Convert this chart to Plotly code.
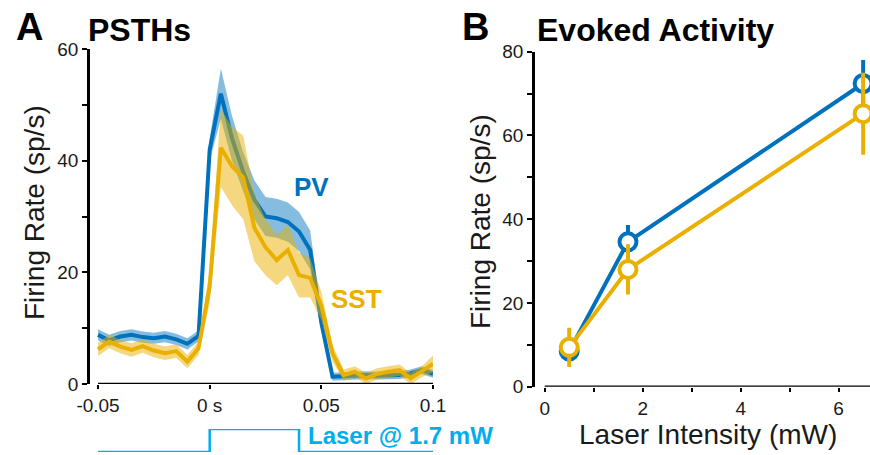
import plotly.graph_objects as go

# ---------------- data ----------------
# Panel A: PSTHs (time in s)
time_s = [-0.05, -0.045, -0.04, -0.035, -0.03, -0.025, -0.02, -0.015, -0.01, -0.005,
          0.0, 0.005, 0.01, 0.015, 0.02, 0.025, 0.03, 0.035, 0.04, 0.045,
          0.05, 0.055, 0.06, 0.065, 0.07, 0.075, 0.08, 0.085, 0.09, 0.095, 0.1]
pv_rate = [8.8, 7.8, 8.5, 8.8, 8.4, 8.2, 8.5, 8.0, 7.2, 8.6,
           42.0, 52.0, 44.0, 38.0, 33.0, 30.0, 29.7, 29.0, 27.3, 24.0,
           11.0, 1.3, 1.4, 1.5, 1.6, 1.5, 1.5, 1.6, 1.9, 2.5, 1.8]
pv_sem = [1.0, 1.0, 1.0, 1.0, 1.0, 1.0, 1.0, 1.0, 1.0, 1.0,
          2.0, 4.5, 4.0, 3.5, 3.5, 3.5, 3.5, 3.5, 3.5, 3.5,
          1.5, 0.7, 0.7, 0.7, 0.7, 0.7, 0.7, 0.7, 0.7, 0.7, 0.7]
sst_rate = [6.2, 7.6, 6.7, 6.1, 6.8, 6.0, 5.5, 5.9, 4.0, 6.4,
            17.5, 42.3, 39.0, 37.0, 28.0, 24.5, 22.2, 24.0, 19.5, 19.0,
            14.0, 5.5, 1.6, 2.2, 1.0, 1.8, 2.2, 2.5, 1.0, 2.2, 3.6]
sst_sem = [1.2, 1.2, 1.2, 1.2, 1.2, 1.2, 1.2, 1.2, 1.2, 1.2,
           3.0, 7.0, 7.0, 7.5, 6.0, 5.0, 4.5, 4.5, 4.0, 3.5,
           2.5, 1.5, 1.0, 1.0, 1.0, 1.0, 1.0, 1.0, 1.0, 1.0, 1.5]
laser_t = [-0.05, 0.0, 0.0, 0.04, 0.04, 0.1]
laser_on = [0, 0, 1, 1, 0, 0]

# Panel B: evoked activity
intensity_mw = [0.5, 1.7, 6.5]
pv_evoked = [8.5, 34.6, 72.4]
pv_evoked_err = [2.5, 4.0, 5.6]
sst_evoked = [9.4, 28.0, 65.2]
sst_evoked_err = [4.7, 6.0, 9.8]

# ---------------- styles ----------------
BLUE = "#0072BD"
YELLOW = "#EAB000"
BLUE_BAND = "rgba(0,114,189,0.48)"
YELLOW_BAND = "rgba(234,176,0,0.5)"
LASER = "#00AEEF"
FONT = "Liberation Sans, Arial, sans-serif"
TXT = "#1a1a1a"
W, H = 870, 455


def px(x):
    return x / W


def py(y):
    return 1 - y / H


fig = go.Figure()


def band(t, m, s, color):
    upper = [a + b for a, b in zip(m, s)]
    lower = [a - b for a, b in zip(m, s)]
    return go.Scatter(x=t + t[::-1], y=upper + lower[::-1], fill="toself",
                      fillcolor=color, line=dict(width=0), mode="lines",
                      hoverinfo="skip", showlegend=False, xaxis="x", yaxis="y")


fig.add_trace(band(time_s, pv_rate, pv_sem, BLUE_BAND))
fig.add_trace(go.Scatter(x=time_s, y=pv_rate, mode="lines", line=dict(color=BLUE, width=4),
                         showlegend=False, xaxis="x", yaxis="y"))
fig.add_trace(band(time_s, sst_rate, sst_sem, YELLOW_BAND))
fig.add_trace(go.Scatter(x=time_s, y=sst_rate, mode="lines", line=dict(color=YELLOW, width=4),
                         showlegend=False, xaxis="x", yaxis="y"))
fig.add_trace(go.Scatter(x=laser_t, y=laser_on, mode="lines", line=dict(color=LASER, width=2.5),
                         showlegend=False, xaxis="x", yaxis="y3"))

# Panel B
for yv, err, col in [(pv_evoked, pv_evoked_err, BLUE), (sst_evoked, sst_evoked_err, YELLOW)]:
    fig.add_trace(go.Scatter(
        x=intensity_mw, y=yv, mode="lines+markers",
        line=dict(color=col, width=4),
        marker=dict(symbol="circle", size=17, color="white", line=dict(color=col, width=4)),
        error_y=dict(type="data", array=err, visible=True, color=col, thickness=4, width=0),
        showlegend=False, xaxis="x2", yaxis="y2", cliponaxis=False))

axis_common = dict(showgrid=False, zeroline=False, ticks="outside", tickwidth=2,
                   tickcolor="black", automargin=False,
                   tickfont=dict(family=FONT, size=19, color=TXT))

fig.update_layout(
    template="none",
    width=W, height=H, margin=dict(l=0, r=0, t=0, b=0, pad=0),
    paper_bgcolor="white", plot_bgcolor="rgba(0,0,0,0)", showlegend=False,
    font=dict(family=FONT, color=TXT),
    xaxis=dict(domain=[px(90), px(433)], range=[-0.0536, 0.1], anchor="y", showline=False,
               ticklen=4,
               tickvals=[-0.05, 0, 0.05, 0.1], ticktext=["-0.05", "0 s", "0.05", "0.1"],
               **axis_common),
    yaxis=dict(domain=[py(384), py(49)], range=[0, 60], anchor="x", showline=True,
               linecolor="black", linewidth=2.5, ticklen=5,
               tickvals=[0, 10, 20, 30, 40, 50, 60], ticktext=["0", "", "20", "", "40", "", "60"],
               **axis_common),
    yaxis3=dict(domain=[py(452), py(429)], range=[0, 1], anchor="x", visible=False,
                automargin=False),
    xaxis2=dict(domain=[px(535), 1.0], range=[-0.198, 6.64], anchor="y2", showline=False,
                ticklen=4,
                tickvals=[0, 1, 2, 3, 4, 5, 6], ticktext=["0", "", "2", "", "4", "", "6"],
                **axis_common),
    yaxis2=dict(domain=[py(386.7), py(51.7)], range=[0, 80], anchor="x2", showline=True,
                linecolor="black", linewidth=2.5, ticklen=5,
                tickvals=[0, 10, 20, 30, 40, 50, 60, 70, 80],
                ticktext=["0", "", "20", "", "40", "", "60", "", "80"],
                **axis_common),
)

# offset x-axis lines
fig.add_shape(type="line", xref="x", yref="y", x0=-0.05, x1=0.1, y0=0, y1=0,
              line=dict(color="black", width=2.5))
fig.add_shape(type="line", xref="x2", yref="y2", x0=0, x1=6.64, y0=0, y1=0,
              line=dict(color="black", width=2.5))

ann = [
    dict(text="<b>A</b>", x=px(14), y=py(27), xanchor="left", yanchor="middle", size=38, color="black"),
    dict(text="<b>PSTHs</b>", x=px(86), y=py(30), xanchor="left", yanchor="middle", size=32, color="black"),
    dict(text="<b>B</b>", x=px(460), y=py(27), xanchor="left", yanchor="middle", size=38, color="black"),
    dict(text="<b>Evoked Activity</b>", x=px(535), y=py(30), xanchor="left", yanchor="middle", size=32, color="black"),
    dict(text="<b>PV</b>", x=px(311), y=py(187), xanchor="center", yanchor="middle", size=26, color=BLUE),
    dict(text="<b>SST</b>", x=px(356), y=py(299), xanchor="center", yanchor="middle", size=26, color=YELLOW),
    dict(text="<b>Laser @ 1.7 mW</b>", x=px(306), y=py(435), xanchor="left", yanchor="middle", size=24, color=LASER),
    dict(text="Laser Intensity (mW)", x=px(708), y=py(434), xanchor="center", yanchor="middle", size=28, color=TXT),
]
for a in ann:
    fig.add_annotation(text=a["text"], x=a["x"], y=a["y"], xref="paper", yref="paper",
                       xanchor=a["xanchor"], yanchor=a["yanchor"], showarrow=False,
                       font=dict(family=FONT, size=a["size"], color=a["color"]))

for xc, yc in [(34, 213), (480, 222)]:
    fig.add_annotation(text="Firing Rate (sp/s)", x=px(xc), y=py(yc), xref="paper", yref="paper",
                       xanchor="center", yanchor="middle", textangle=-90, showarrow=False,
                       font=dict(family=FONT, size=28, color=TXT))

fig.write_html("out.html")
